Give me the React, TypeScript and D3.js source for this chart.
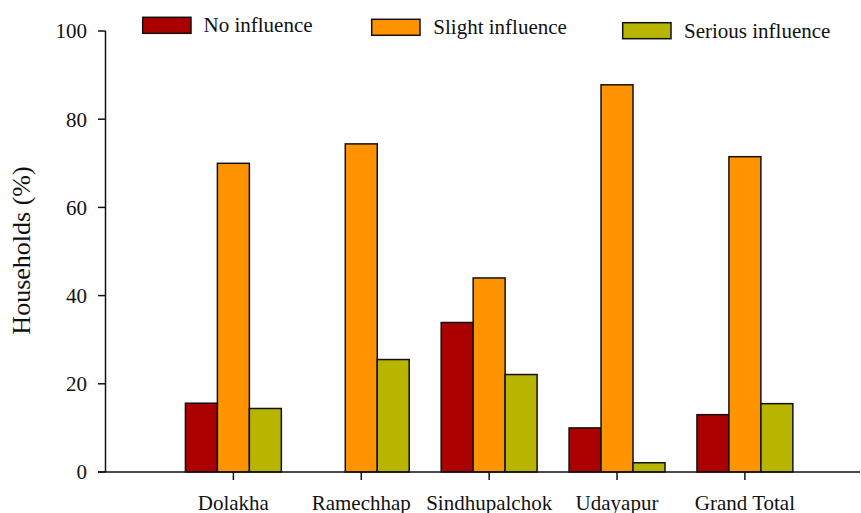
import React from "react";
import * as d3 from "d3";

const categories = ["Dolakha", "Ramechhap", "Sindhupalchok", "Udayapur", "Grand Total"];
const seriesNames = ["No influence", "Slight influence", "Serious influence"];
const noInfluence = [15.6, 0, 33.9, 10.0, 13.0];
const slightInfluence = [70.0, 74.4, 44.0, 87.8, 71.5];
const seriousInfluence = [14.4, 25.5, 22.1, 2.1, 15.5];
const yTicks = [0, 20, 40, 60, 80, 100];
const colors = ["#AA0000", "#FF9400", "#B8B500"];

export default function App() {
  const W = 861, H = 513;
  const x = d3.scaleLinear().domain([0, 5.9]).range([105.5, 860]);
  const y = d3.scaleLinear().domain([0, 100]).range([472, 31]);
  const step = x(1) - x(0);
  const bw = step * 0.25;
  const series = [noInfluence, slightInfluence, seriousInfluence];
  const font = "'Liberation Serif', 'Times New Roman', serif";

  const legendPos = [
    { bx: 142.7, by: 17.3, tx: 203.5, ty: 32 },
    { bx: 371.7, by: 19.3, tx: 433.3, ty: 34.3 },
    { bx: 622.7, by: 22.7, tx: 684, ty: 37.7 },
  ];

  return (
    <svg width={W} height={H} style={{ position: "absolute", left: 0, top: 0, background: "#fff" }} fontFamily={font}>
      {categories.map((c, i) =>
        series.map((s, j) => {
          const v = s[i];
          if (!v) return null;
          const cx = x(i + 1);
          const x0 = cx - 1.5 * bw + j * bw;
          return (
            <rect key={c + j} x={x0} y={y(v)} width={bw} height={y(0) - y(v)}
              fill={colors[j]} stroke="#111" strokeWidth={1.5} />
          );
        })
      )}
      <line x1={x(0)} x2={x(0)} y1={y(100)} y2={y(0)} stroke="#111" strokeWidth={1.5} />
      {yTicks.map((t) => (
        <g key={t}>
          <line x1={x(0) - 7.5} x2={x(0)} y1={y(t)} y2={y(t)} stroke="#111" strokeWidth={1.5} />
          <text x={87} y={y(t)} dy="0.35em" textAnchor="end" fontSize={21} fill="#111">{t}</text>
        </g>
      ))}
      <line x1={x(0) - 7.5} x2={x(5.9)} y1={y(0)} y2={y(0)} stroke="#111" strokeWidth={1.5} />
      {categories.map((c, i) => (
        <g key={c}>
          <line x1={x(i + 1)} x2={x(i + 1)} y1={y(0)} y2={y(0) + 8} stroke="#111" strokeWidth={1.5} />
          <text x={x(i + 1)} y={509.5} textAnchor="middle" fontSize={21} fill="#111">{c}</text>
        </g>
      ))}
      <text transform="translate(29.5,250.5) rotate(-90)" textAnchor="middle" fontSize={26} fill="#111">Households (%)</text>
      {seriesNames.map((n, j) => (
        <g key={n}>
          <rect x={legendPos[j].bx} y={legendPos[j].by} width={48.3} height={16} fill={colors[j]} stroke="#111" strokeWidth={1.5} />
          <text x={legendPos[j].tx} y={legendPos[j].ty} fontSize={21} fill="#111">{n}</text>
        </g>
      ))}
    </svg>
  );
}
